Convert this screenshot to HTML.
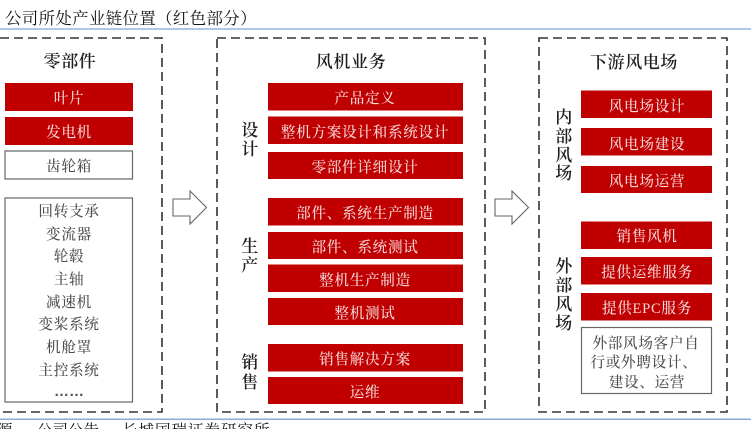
<!DOCTYPE html>
<html lang="zh"><head><meta charset="utf-8"><style>
html,body{margin:0;padding:0;background:#fff;width:751px;height:429px;overflow:hidden}
svg{display:block}
text{font-family:"Liberation Serif","Noto Serif CJK SC",serif;text-anchor:middle}
.r{fill:#c00000}
.w{fill:#f6d6d6;font-size:14.6px;letter-spacing:.7px;font-weight:500}
.g{fill:#505050;font-size:14.6px;letter-spacing:.7px;font-weight:500}
.h{fill:#1f1f1f;font-size:17px;letter-spacing:.6px;font-weight:600}
.d{fill:none;stroke:#333;stroke-width:1.6;stroke-dasharray:9 5}
.b{fill:#fff;stroke:#666;stroke-width:1.2}
.a{fill:#fff;stroke:#666;stroke-width:1.1}
.t{filter:blur(.25px)}
</style></head><body>
<svg width="751" height="429" viewBox="0 0 751 429" xmlns="http://www.w3.org/2000/svg">
<text x="5" y="24" style="text-anchor:start;font-size:16.4px;fill:#111;letter-spacing:.4px">公司所处产业链位置（红色部分）</text>
<rect x="0" y="28" width="751" height="2" fill="#b4c6e7"/>
<rect x="0" y="418.500" width="751" height="1.500" fill="#8eaadb"/>
<text x="-3" y="435.500" style="text-anchor:start;font-size:15.500px;fill:#111">源</text>
<text x="37" y="435.500" style="text-anchor:start;font-size:15.500px;fill:#111">公司公告</text>
<text x="122" y="435.500" style="text-anchor:start;font-size:15.500px;fill:#111;letter-spacing:1px">长城国瑞证券研究所</text>

<path class="d" d="M0 38H162V412H0"/>
<rect class="d" x="217" y="38" width="268" height="374"/>
<rect class="d" x="539" y="38" width="188" height="374"/>

<path class="a" d="M173 199H190V191L206.500 207.500L190 224V216H173Z"/>
<path class="a" d="M495 199H512V191L528.500 207.500L512 224V216H495Z"/>

<g class="t">
<text class="h" x="70" y="67">零部件</text>
<text class="h" x="351" y="67.500">风机业务</text>
<text class="h" x="250" y="136">设</text><text class="h" x="250" y="155">计</text>
<text class="h" x="250" y="252">生</text><text class="h" x="250" y="271">产</text>
<text class="h" x="250" y="368">销</text><text class="h" x="250" y="388">售</text>
<text class="h" x="634" y="68">下游风电场</text>
<text class="h" x="564" y="123">内</text><text class="h" x="564" y="142">部</text><text class="h" x="564" y="161">风</text><text class="h" x="564" y="179">场</text>
<text class="h" x="564" y="272">外</text><text class="h" x="564" y="291">部</text><text class="h" x="564" y="310">风</text><text class="h" x="564" y="329">场</text>
</g>

<rect class="r" x="5" y="83" width="128" height="28"/>
<rect class="r" x="5" y="117" width="128" height="28"/>
<rect class="b" x="5" y="151" width="127.500" height="28"/>
<rect class="b" x="5" y="198" width="127.500" height="204"/>
<rect class="r" x="268" y="83" width="195" height="27.500"/>
<rect class="r" x="268" y="116.500" width="195" height="27.500"/>
<rect class="r" x="268" y="152" width="195" height="27"/>
<rect class="r" x="268" y="198" width="195" height="27.500"/>
<rect class="r" x="268" y="232" width="195" height="27"/>
<rect class="r" x="268" y="264.500" width="195" height="27.500"/>
<rect class="r" x="268" y="298" width="195" height="27"/>
<rect class="r" x="268" y="344" width="195" height="27.500"/>
<rect class="r" x="268" y="377" width="195" height="27"/>
<rect class="r" x="581" y="90.500" width="131" height="27.500"/>
<rect class="r" x="581" y="128" width="131" height="27.500"/>
<rect class="r" x="581" y="166" width="131" height="27"/>
<rect class="r" x="581" y="221.500" width="131" height="27.500"/>
<rect class="r" x="581" y="257" width="131" height="27.500"/>
<rect class="r" x="581" y="293" width="131" height="27.500"/>
<rect class="b" x="581.500" y="327.500" width="130" height="66"/>

<g class="t">
<text class="w" x="69" y="103">叶片</text>
<text class="w" x="69" y="137">发电机</text>
<text class="g" x="69" y="171">齿轮箱</text>
<text class="g" x="69" y="216">回转支承</text>
<text class="g" x="69" y="239">变流器</text>
<text class="g" x="69" y="261">轮毂</text>
<text class="g" x="69" y="284">主轴</text>
<text class="g" x="69" y="307">减速机</text>
<text class="g" x="69" y="329">变桨系统</text>
<text class="g" x="69" y="352">机舱罩</text>
<text class="g" x="69" y="375">主控系统</text>
<text class="g" x="69" y="396" style="font-family:'Liberation Sans',sans-serif;font-size:15px;letter-spacing:0;font-weight:700">……</text>

<text class="w" x="365" y="103">产品定义</text>
<text class="w" x="365" y="137">整机方案设计和系统设计</text>
<text class="w" x="365" y="172">零部件详细设计</text>
<text class="w" x="365" y="218">部件、系统生产制造</text>
<text class="w" x="365" y="252">部件、系统测试</text>
<text class="w" x="365" y="285">整机生产制造</text>
<text class="w" x="365" y="318">整机测试</text>
<text class="w" x="365" y="364">销售解决方案</text>
<text class="w" x="365" y="397">运维</text>

<text class="w" x="647" y="111">风电场设计</text>
<text class="w" x="647" y="149">风电场建设</text>
<text class="w" x="647" y="186">风电场运营</text>
<text class="w" x="647" y="241">销售风机</text>
<text class="w" x="647" y="277">提供运维服务</text>
<text class="w" x="647" y="313">提供EPC服务</text>
<text class="g" x="646" y="348">外部风场客户自</text>
<text class="g" x="644" y="367">行或外聘设计、</text>
<text class="g" x="647" y="387">建设、运营</text>
</g>
</svg>
</body></html>
